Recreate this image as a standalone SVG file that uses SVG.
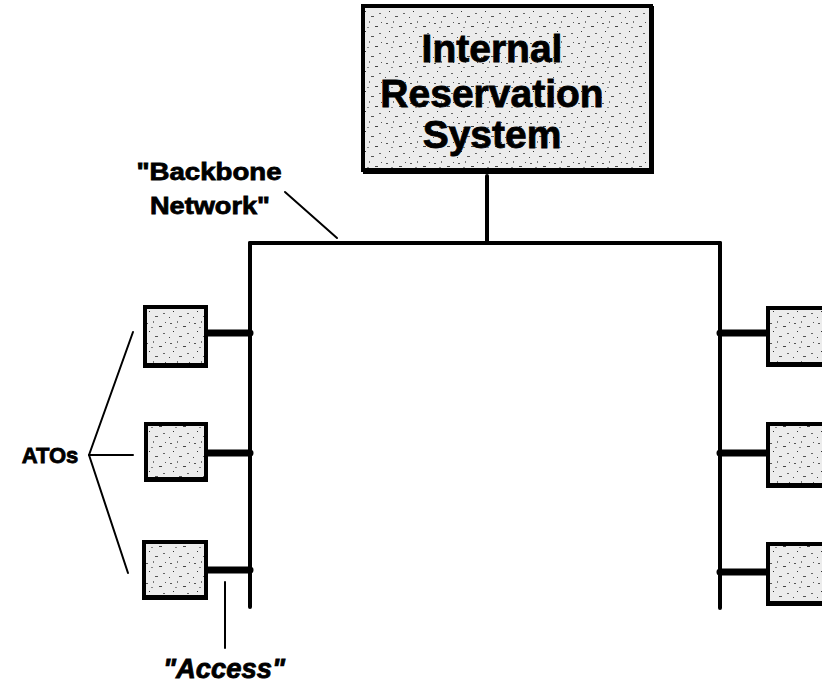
<svg xmlns="http://www.w3.org/2000/svg" width="822" height="686" viewBox="0 0 822 686">
<style>
.box{fill:url(#speck);stroke:#000;stroke-width:4}
.shadow{fill:#000}
.line{stroke:#000;fill:none;stroke-linecap:round}
.bus{stroke-width:4}
.stub{stroke-width:7}
.thin{stroke-width:2}
.lbl{font-family:"Liberation Sans",Arial,sans-serif;font-weight:bold;fill:#000;stroke:#000;stroke-width:0.8}
</style>
<defs>
<pattern id="speck" width="24" height="20" patternUnits="userSpaceOnUse">
<rect width="24" height="20" fill="#ececec"/>
<rect x="2" y="3" width="2" height="1" fill="#555"/>
<rect x="9" y="1" width="1" height="2" fill="#777"/>
<rect x="15" y="6" width="3" height="1" fill="#444"/>
<rect x="5" y="11" width="1" height="1" fill="#333"/>
<rect x="19" y="13" width="2" height="1" fill="#666"/>
<rect x="11" y="16" width="3" height="1" fill="#555"/>
<rect x="1" y="17" width="1" height="1" fill="#444"/>
<rect x="21" y="2" width="1" height="1" fill="#555"/>
<rect x="7" y="7" width="2" height="1" fill="#888"/>
</pattern>
</defs>
<rect width="822" height="686" fill="#fff"/>

<g id="connectors">
<line class="line bus" x1="487" y1="176" x2="487" y2="243"/>
<line class="line bus" x1="250" y1="243" x2="720" y2="243"/>
<line class="line bus" x1="250" y1="243" x2="250" y2="607"/>
<line class="line bus" x1="720" y1="243" x2="720" y2="608"/>
<line class="line stub" x1="208" y1="333" x2="250" y2="333"/>
<line class="line stub" x1="208" y1="453" x2="250" y2="453"/>
<line class="line stub" x1="208" y1="570" x2="250" y2="570"/>
<line class="line stub" x1="720" y1="333" x2="767" y2="333"/>
<line class="line stub" x1="720" y1="453" x2="767" y2="453"/>
<line class="line stub" x1="720" y1="572" x2="767" y2="572"/>
<line class="line thin" x1="285" y1="192" x2="337" y2="238"/>
<line class="line thin" x1="89" y1="455" x2="133" y2="332"/>
<line class="line thin" x1="89" y1="455" x2="133" y2="455"/>
<line class="line thin" x1="89" y1="455" x2="128" y2="573"/>
<line class="line thin" x1="225" y1="582" x2="225" y2="648"/>
</g>

<g id="reservation-system">
<rect class="box" x="363" y="6" width="288" height="164" stroke-width="3"/>
<rect class="shadow" x="363" y="168" width="291" height="6"/>
<rect class="shadow" x="650" y="6" width="4" height="168"/>
<text class="lbl" x="492" y="62" font-size="39" text-anchor="middle">Internal</text>
<text class="lbl" x="492" y="107" font-size="39" text-anchor="middle">Reservation</text>
<text class="lbl" x="492" y="148" font-size="39" text-anchor="middle">System</text>
</g>

<g id="ato-left-1">
<rect class="box" x="145" y="307" width="61" height="58"/>
<rect class="shadow" x="143" y="363" width="65" height="5"/>
</g>
<g id="ato-left-2">
<rect class="box" x="146" y="424" width="60" height="55"/>
<rect class="shadow" x="144" y="477" width="64" height="5"/>
</g>
<g id="ato-left-3">
<rect class="box" x="144" y="542" width="62" height="55"/>
<rect class="shadow" x="142" y="595" width="66" height="5"/>
</g>
<g id="ato-right-1">
<rect class="box" x="768" y="308" width="60" height="56"/>
<rect class="shadow" x="766" y="362" width="60" height="5"/>
</g>
<g id="ato-right-2">
<rect class="box" x="768" y="424" width="60" height="61"/>
<rect class="shadow" x="766" y="483" width="60" height="5"/>
</g>
<g id="ato-right-3">
<rect class="box" x="768" y="544" width="60" height="59"/>
<rect class="shadow" x="766" y="601" width="60" height="5"/>
</g>

<g id="labels">
<text class="lbl" x="209" y="180" font-size="24" text-anchor="middle" textLength="145" lengthAdjust="spacingAndGlyphs">"Backbone</text>
<text class="lbl" x="210" y="214" font-size="24" text-anchor="middle" textLength="120" lengthAdjust="spacingAndGlyphs">Network"</text>
<text class="lbl" x="50" y="463" font-size="22" text-anchor="middle">ATOs</text>
<text class="lbl" x="224" y="678" font-size="27" text-anchor="middle" font-style="italic" textLength="122" lengthAdjust="spacingAndGlyphs">"Access"</text>
</g>
</svg>
